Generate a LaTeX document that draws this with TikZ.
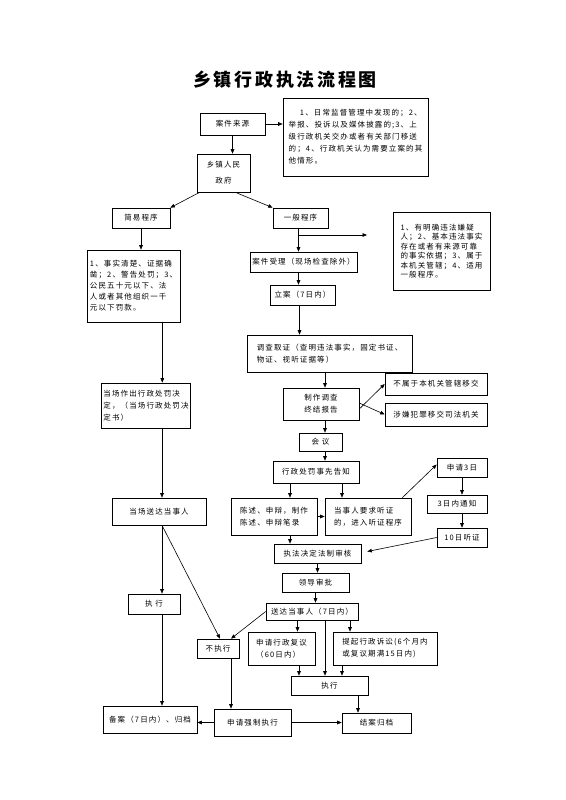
\documentclass[tikz,border=0pt]{standalone}
\usepackage{fontspec}
\setmainfont[LetterSpace=15]{Noto Sans CJK SC}
\usetikzlibrary{arrows.meta}
\tikzset{
  box/.style={draw, line width=0.6pt, inner sep=2pt, align=center,
    font=\fontsize{7.5}{12}\selectfont},
  para/.style={box, align=left},
  sz/.style 2 args={minimum width=#1, minimum height=#2},
  link/.style={-{Triangle[length=4.5pt,width=3.6pt]}, line width=0.6pt}
}
\begin{document}
\begin{tikzpicture}[x=1pt,y=-1pt]
      \useasboundingbox (0,0) rectangle (565,800);
      \node[font=\fontsize{18}{22}\selectfont\bfseries] (title) at (285,80) {乡镇行政执法流程图};
      \node[box, sz={65}{22}] (src) at (232.5,124) {案件来源};
      \node[para, sz={145}{78}] (srcnote) at (355.5,137)
        {\hspace{1.5em}1、日常监督管理中发现的；2、\\举报、投诉以及媒体披露的;3、上\\级行政机关交办或者有关部门移送\\的；4、行政机关认为需要立案的其\\他情形。};
      \node[box, sz={53}{38}, font=\fontsize{7.5}{16}\selectfont] (gov) at (223.5,173) {乡镇人民\\政府};
      \node[box, sz={58}{20}] (simple) at (141,218) {简易程序};
      \node[box, sz={55}{20}] (general) at (300.5,218) {一般程序};
      \node[para, sz={93}{72}, font=\fontsize{7.5}{11}\selectfont] (simplenote) at (133.5,286)
        {1、事实清楚、证据确\\凿；2、警告处罚；3、\\公民五十元以下、法\\人或者其他组织一千\\元以下罚款。};
      \node[para, sz={97}{78}, font=\fontsize{7.5}{9.5}\selectfont] (gennote) at (441.5,251)
        {1、有明确违法嫌疑\\人；2、基本违法事实\\存在或者有来源可靠\\的事实依据；3、属于\\本机关管辖；4、适用\\一般程序。};
      \node[box, sz={107}{20}] (accept) at (303.5,262) {案件受理（现场检查除外）};
      \node[box, sz={65}{20}] (register) at (302.5,295) {立案（7日内）};
      \node[para, sz={165}{37}] (investigate) at (329.5,353.5)
        {调查取证（查明违法事实，固定书证、\\物证、视听证据等）};
      \node[para, sz={68}{45}] (onsite) at (146,405.5) {当场作出行政处罚决\\定，（当场行政处罚决\\定书）};
      \node[box, sz={76}{32}] (report) at (321,404) {制作调查\\终结报告};
      \node[box, sz={102}{22}] (transfer1) at (436,384) {不属于本机关管辖移交};
      \node[box, sz={102}{23}] (transfer2) at (436,414.5) {涉嫌犯罪移交司法机关};
      \node[box, sz={43}{18}] (meeting) at (320.5,442) {会\ 议};
      \node[box, sz={86}{22}] (notify) at (316,472) {行政处罚事先告知};
      \node[para, sz={86}{37}] (plead) at (274,516.5) {陈述、申辩，制作\\陈述、申辩笔录};
      \node[para, sz={86}{37}] (hearreq) at (368,516.5) {当事人要求听证\\的，进入听证程序};
      \node[box, sz={50}{19}] (apply3) at (462,467.5) {申请3日};
      \node[box, sz={60}{18}] (notice3) at (457,504) {3日内通知};
      \node[box, sz={50}{19}] (hear10) at (462,537.5) {10日听证};
      \node[box, sz={87}{19}] (legal) at (317.5,553.5) {执法决定法制审核};
      \node[box, sz={94}{27}] (deliver0) at (159,511.5) {当场送达当事人};
      \node[box, sz={67}{19}] (approve) at (315.5,582.5) {领导审批};
      \node[box, sz={92}{17}] (deliver) at (312,611.5) {送达当事人（7日内）};
      \node[box, sz={52}{20}] (exec1) at (154,604) {执\ 行};
      \node[box, sz={42}{19}] (noexec) at (218,648.5) {不执行};
      \node[para, sz={67}{33}] (review) at (281.5,648.5) {申请行政复议\\（60日内）};
      \node[para, sz={104}{33}] (sue) at (385,648.5) {提起行政诉讼(6个月内\\或复议期满15日内)};
      \node[box, sz={77}{19}] (exec2) at (329.5,685.5) {执行};
      \node[box, sz={94}{27}] (archive) at (150,719.5) {备案（7日内）、归档};
      \node[box, sz={77}{27}] (enforce) at (252.5,722.5) {申请强制执行};
      \node[box, sz={69}{20}] (close) at (376.5,723) {结案归档};
      \coordinate (brtip) at (367,235);
      \begin{scope}[link]
        \draw (src.east) to (src.east -| srcnote.west);
        \draw (src.south) to (src.south |- gov.north);
        \draw ([xshift=3]gov.south west) to (simple.north east);
        \draw ([xshift=-15]gov.south east) to (general.north west);
        \draw (simple.south) to (simple.south |- simplenote.north);
        \draw ([xshift=-2]general.south) to ([xshift=-2]general.south |- accept.north);
        \draw ([xshift=-2]general.south |- brtip) to (brtip);
        \draw ([xshift=-5]accept.south) to ([xshift=-5]accept.south |- register.north);
        \draw ([xshift=-3]register.south) to ([xshift=-3]register.south |- investigate.north);
        \draw ([xshift=-18]simplenote.south east) to ([xshift=-18]simplenote.south east |- onsite.north);
        \draw ([xshift=4]report.north |- investigate.south) to ([xshift=4]report.north);
        \draw ([yshift=-5]report.east) to (transfer1.west);
        \draw ([yshift=1]report.east) to (transfer2.west);
        \draw ([xshift=4]report.south) to ([xshift=4]report.south |- meeting.north);
        \draw ([xshift=4]report.south |- meeting.south) to ([xshift=4]report.south |- notify.north);
        \draw ([xshift=-26]notify.south) to ([xshift=-26]notify.south |- plead.north);
        \draw ([xshift=26]notify.south) to ([xshift=26]notify.south |- hearreq.north);
        \draw (plead.east) to (hearreq.west);
        \draw ([xshift=-9]hearreq.north east) to ([yshift=3]apply3.west);
        \draw (apply3.south) to (apply3.south |- notice3.north);
        \draw (apply3.south |- notice3.south) to (apply3.south |- hear10.north);
        \draw (hear10.west) to ([xshift=6,yshift=2]legal.east);
        \draw ([xshift=16]plead.south) to ([xshift=16]plead.south |- legal.north);
        \draw (legal.south) to (legal.south |- approve.north);
        \draw (approve.south) to (approve.south |- deliver.north);
        \draw ([xshift=16]review.north |- deliver.south) to ([xshift=16]review.north);
        \draw ([xshift=-35]sue.north |- deliver.south) to ([xshift=-35]sue.north);
        \draw ([xshift=-4.5]exec2.north |- deliver.south) to ([xshift=-4.5]exec2.north);
        \draw (deliver.west) to ([xshift=13]noexec.north);
        \draw ([xshift=16]onsite.south) to ([xshift=16]onsite.south |- deliver0.north);
        \draw ([xshift=3]deliver0.south) to ([xshift=3]deliver0.south |- exec1.north);
        \draw ([xshift=3]deliver0.south) to ([xshift=2]noexec.north);
        \draw ([xshift=17.5]review.south) to ([xshift=17.5]review.south |- exec2.north);
        \draw ([xshift=-43]sue.south) to ([xshift=-43]sue.south |- exec2.north);
        \draw ([xshift=28.5]exec2.south) to ([xshift=28.5]exec2.south |- close.north);
        \draw ([xshift=8]exec1.south) to ([xshift=8]exec1.south |- archive.north);
        \draw ([xshift=13]noexec.south) to ([xshift=13]noexec.south |- enforce.north);
        \draw (enforce.west) to (enforce.west -| archive.east);
        \draw (enforce.east) to (enforce.east -| close.west);
      \end{scope}
    \end{tikzpicture}
\end{document}
